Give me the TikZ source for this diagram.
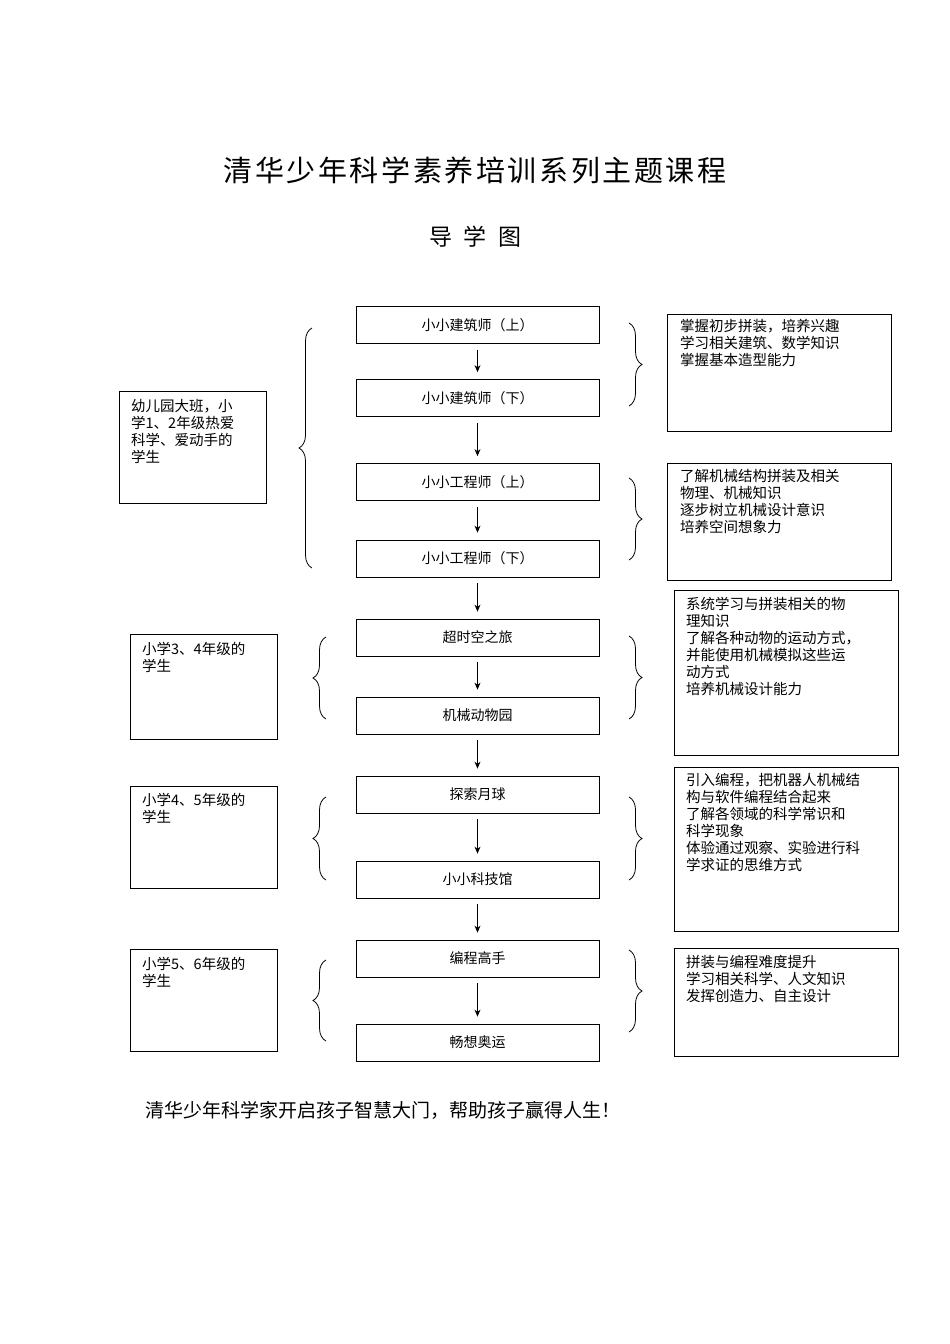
\documentclass[tikz,border=0pt]{standalone}
\usepackage{fontspec}
\setmainfont{Noto Sans CJK SC}
\usetikzlibrary{decorations.pathreplacing,arrows.meta}
\begin{document}
\begin{tikzpicture}[x=1pt,y=-1pt,
  course/.style={draw,line width=0.8pt,minimum width=243pt,minimum height=37pt,font=\fontsize{14}{16}\selectfont,inner sep=0pt},
  arr/.style={-{Stealth[length=7pt,width=6pt]},line width=0.8pt},
  brc/.style={decorate,decoration={brace,amplitude=13pt},line width=0.8pt},
  info/.style={draw,line width=0.8pt},
  txt/.style={anchor=north west,align=left,inner sep=0pt,font=\fontsize{14.5}{17}\selectfont}]
\useasboundingbox (0,0) rectangle (950,1344);
\node[font=\fontsize{29}{32}\selectfont\addfontfeature{LetterSpace=9}] (title) at (475,170) {清华少年科学素养培训系列主题课程};
\node[font=\fontsize{23}{26}\selectfont] (sub) at (475,237) {导\hspace{0.5em}学\hspace{0.5em}图};
% courses
\node[course] (c1) at (477.5,325) {小小建筑师（上）};
\node[course] (c2) at (477.5,398) {小小建筑师（下）};
\node[course] (c3) at (477.5,482) {小小工程师（上）};
\node[course] (c4) at (477.5,558.5) {小小工程师（下）};
\node[course] (c5) at (477.5,637.5) {超时空之旅};
\node[course] (c6) at (477.5,715.5) {机械动物园};
\node[course] (c7) at (477.5,794.5) {探索月球};
\node[course] (c8) at (477.5,879.5) {小小科技馆};
\node[course] (c9) at (477.5,958.5) {编程高手};
\node[course] (c10) at (477.5,1042.5) {畅想奥运};
\foreach \a/\b in {c1/c2,c2/c3,c3/c4,c4/c5,c5/c6,c6/c7,c7/c8,c8/c9,c9/c10}
  \draw[arr] ([yshift=-6pt]\a.south) -- ([yshift=7pt]\b.north);
% left boxes
\draw[info] (119,391) rectangle (266,503);
\node[txt,text width=130pt] (l1) at (131,399) {幼儿园大班，小\\学1、2年级热爱\\科学、爱动手的\\学生};
\draw[info] (130,634) rectangle (277,739);
\node[txt] (l2) at (142,642) {小学3、4年级的\\学生};
\draw[info] (130,786) rectangle (277,888);
\node[txt] (l3) at (142,793) {小学4、5年级的\\学生};
\draw[info] (130,949) rectangle (277,1051);
\node[txt] (l4) at (142,957) {小学5、6年级的\\学生};
% left braces
\draw[brc] (312,568) -- (312,328);
\draw[brc] (326,719) -- (326,637);
\draw[brc] (326,880) -- (326,797);
\draw[brc] (326,1041) -- (326,960);
% right braces
\draw[brc] (629,323) -- (629,406);
\draw[brc] (629,478) -- (629,560);
\draw[brc] (629,636) -- (629,719);
\draw[brc] (629,797) -- (629,880);
\draw[brc] (629,950) -- (629,1032);
% right boxes
\draw[info] (667,314) rectangle (891,431);
\node[txt] (r1) at (680,319) {掌握初步拼装，培养兴趣\\学习相关建筑、数学知识\\掌握基本造型能力};
\draw[info] (667,463) rectangle (891,580);
\node[txt] (r2) at (680,469) {了解机械结构拼装及相关\\物理、机械知识\\逐步树立机械设计意识\\培养空间想象力};
\draw[info] (674,590) rectangle (898,755);
\node[txt] (r3) at (686,597) {系统学习与拼装相关的物\\理知识\\了解各种动物的运动方式，\\并能使用机械模拟这些运\\动方式\\培养机械设计能力};
\draw[info] (674,767) rectangle (898,931);
\node[txt] (r4) at (686,773) {引入编程，把机器人机械结\\构与软件编程结合起来\\了解各领域的科学常识和\\科学现象\\体验通过观察、实验进行科\\学求证的思维方式};
\draw[info] (674,948) rectangle (898,1056);
\node[txt] (r5) at (686,955) {拼装与编程难度提升\\学习相关科学、人文知识\\发挥创造力、自主设计};
\node[anchor=west,inner sep=0pt,font=\fontsize{19}{22}\selectfont] (foot) at (145,1110) {清华少年科学家开启孩子智慧大门，帮助孩子赢得人生！};
\end{tikzpicture}
\end{document}
